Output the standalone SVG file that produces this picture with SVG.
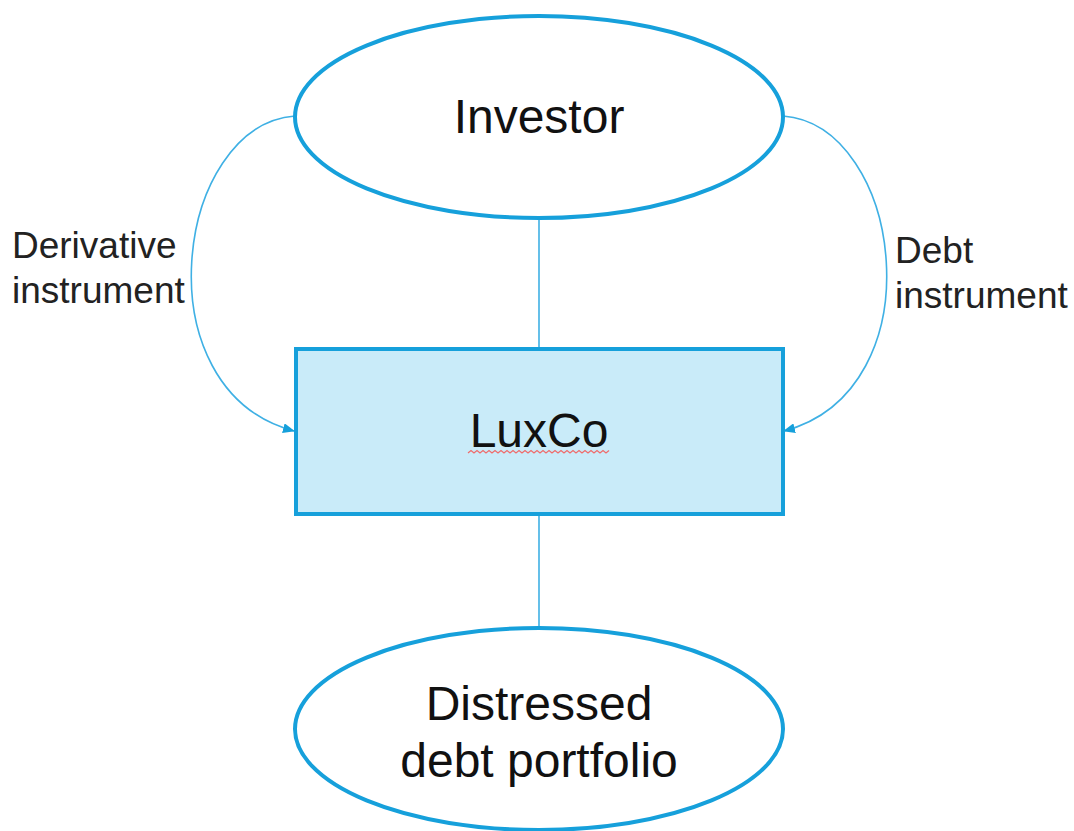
<svg xmlns="http://www.w3.org/2000/svg" width="1074" height="831" viewBox="0 0 1074 831">
  <style>
    .node { stroke: #16a0db; stroke-width: 4; }
    .oval { fill: #ffffff; }
    .box { fill: #c9ebf9; }
    .big { font-family: "Liberation Sans", Arial, sans-serif; font-size: 48px; fill: #111111; text-anchor: middle; }
    .lbl { font-family: "Liberation Sans", Arial, sans-serif; font-size: 37px; fill: #222222; }
    .link { fill: none; stroke: #3fb0e4; stroke-width: 1.6; }
  </style>
  <defs>
    <marker id="arrow" viewBox="0 0 12 10" refX="11" refY="5" markerWidth="12" markerHeight="10" markerUnits="userSpaceOnUse" orient="auto">
      <path d="M0,0 L12,5 L0,10 Z" fill="#16a0db"/>
    </marker>
  </defs>
  <rect width="1074" height="831" fill="#ffffff"/>

  <g id="connectors">
    <line class="link" x1="539" y1="218" x2="539" y2="349"/>
    <line class="link" x1="539" y1="515" x2="539" y2="628"/>
    <path class="link" d="M295,116 C175,125 140,390 294,431" marker-end="url(#arrow)"/>
    <path class="link" d="M783,116 C903,125 938,390 784,431" marker-end="url(#arrow)"/>
  </g>

  <g id="investor">
    <ellipse class="node oval" cx="539" cy="117" rx="244" ry="101"/>
    <text class="big" x="539" y="133">Investor</text>
  </g>

  <g id="luxco">
    <rect class="node box" x="296" y="349" width="487" height="165"/>
    <text class="big" x="539" y="447">LuxCo</text>
    <path d="M468,453 l3,-2.5 l3,2.5 l3,-2.5 l3,2.5 l3,-2.5 l3,2.5 l3,-2.5 l3,2.5 l3,-2.5 l3,2.5 l3,-2.5 l3,2.5 l3,-2.5 l3,2.5 l3,-2.5 l3,2.5 l3,-2.5 l3,2.5 l3,-2.5 l3,2.5 l3,-2.5 l3,2.5 l3,-2.5 l3,2.5 l3,-2.5 l3,2.5 l3,-2.5 l3,2.5 l3,-2.5 l3,2.5 l3,-2.5 l3,2.5 l3,-2.5 l3,2.5 l3,-2.5 l3,2.5 l3,-2.5 l3,2.5 l3,-2.5 l3,2.5 l3,-2.5 l3,2.5 l3,-2.5 l3,2.5 l3,-2.5 l3,2.5 l3,-2.5" fill="none" stroke="#ef6b6b" stroke-width="1.2"/>
  </g>

  <g id="portfolio">
    <ellipse class="node oval" cx="539" cy="729" rx="244" ry="101"/>
    <text class="big" x="539" y="720">Distressed</text>
    <text class="big" x="539" y="777">debt portfolio</text>
  </g>

  <g id="label-derivative">
    <text class="lbl" x="12" y="258">Derivative</text>
    <text class="lbl" x="12" y="303">instrument</text>
  </g>

  <g id="label-debt">
    <text class="lbl" x="895" y="263">Debt</text>
    <text class="lbl" x="895" y="308">instrument</text>
  </g>
</svg>
